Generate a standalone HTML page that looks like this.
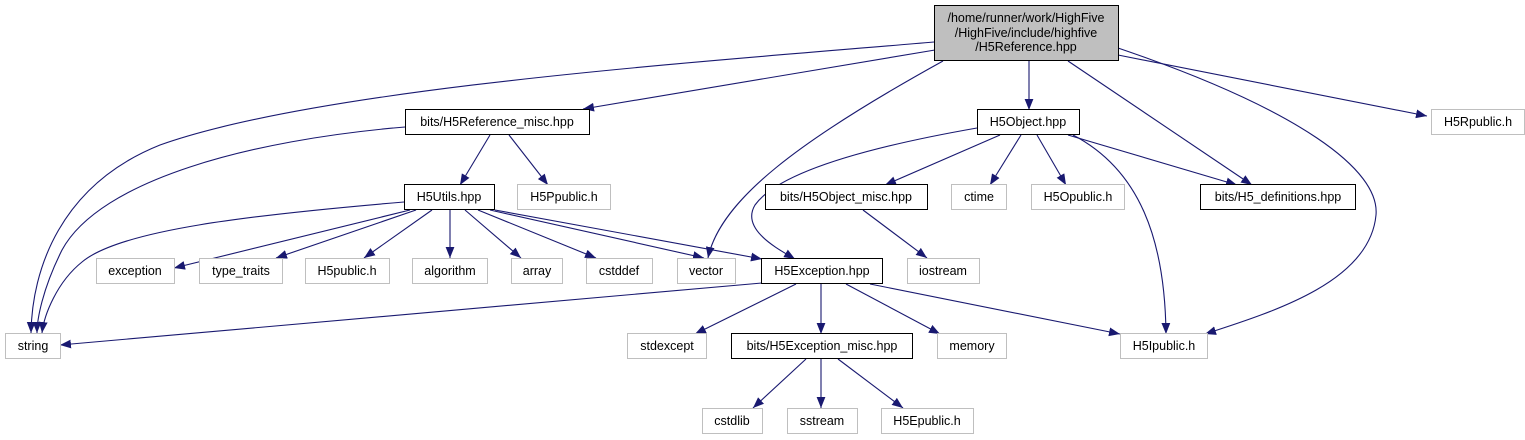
<!DOCTYPE html>
<html><head><meta charset="utf-8"><style>
html,body{margin:0;padding:0;background:#fff;}
svg{display:block;}
text{font-family:"Liberation Sans",Arial,sans-serif;font-size:12.5px;fill:#000;}
</style></head><body>
<svg width="1525" height="440" viewBox="0 0 1525 440" xmlns="http://www.w3.org/2000/svg">
<defs>
<marker id="a" viewBox="0 0 10 8" refX="10" refY="4" markerWidth="11" markerHeight="9" markerUnits="userSpaceOnUse" orient="auto">
<path d="M0,0 L10,4 L0,8 z" fill="#191970"/>
</marker>
</defs>
<g fill="none" stroke="#191970" stroke-width="1.1" marker-end="url(#a)">
<path d="M934,42 C700,62 320,88 160,145 C60,185 32,270 31,333"/>
<path d="M935,50 L583,109"/>
<path d="M943,61 C800,140 720,200 708,258"/>
<path d="M1029,61 L1029,110"/>
<path d="M1068,61 L1252,185"/>
<path d="M1118,48 C1300,110 1380,170 1376,215 C1370,280 1280,310 1205,334"/>
<path d="M1118,55 L1427,116"/>
<path d="M405,127 C250,140 100,180 62,250 C42,290 37,320 37,333"/>
<path d="M490,135 L460,185"/>
<path d="M509,135 L548,185"/>
<path d="M977,128 C880,145 780,170 755,205 C740,230 780,250 795,259"/>
<path d="M1000,135 L885,185"/>
<path d="M1021,135 L990,185"/>
<path d="M1037,135 L1066,185"/>
<path d="M1068,135 L1237,185"/>
<path d="M1073,135 C1140,170 1165,240 1166,334"/>
<path d="M863,210 L927,258"/>
<path d="M404,202 C250,215 120,230 82,262 C57,282 44,315 42,333"/>
<path d="M410,210 L174,268"/>
<path d="M416,210 L276,258"/>
<path d="M432,210 L364,258"/>
<path d="M450,210 L450,258"/>
<path d="M465,210 L521,258"/>
<path d="M478,210 L596,258"/>
<path d="M490,210 L704,258"/>
<path d="M495,210 L762,259"/>
<path d="M762,283 L60,345"/>
<path d="M796,284 L695,334"/>
<path d="M821,284 L821,334"/>
<path d="M846,284 L940,334"/>
<path d="M870,284 L1120,334"/>
<path d="M806,359 L753,408"/>
<path d="M821,359 L821,408"/>
<path d="M838,359 L903,408"/>
</g>
<g stroke-width="1">
<rect x="934.5" y="5.5" width="184" height="55" fill="#bfbfbf" stroke="#000"/>
<rect x="405.5" y="109.5" width="184" height="25" fill="#fff" stroke="#000"/>
<rect x="977.5" y="109.5" width="102" height="25" fill="#fff" stroke="#000"/>
<rect x="1431.5" y="109.5" width="93" height="25" fill="#fff" stroke="#bfbfbf"/>
<rect x="404.5" y="184.5" width="90" height="25" fill="#fff" stroke="#000"/>
<rect x="517.5" y="184.5" width="93" height="25" fill="#fff" stroke="#bfbfbf"/>
<rect x="765.5" y="184.5" width="162" height="25" fill="#fff" stroke="#000"/>
<rect x="951.5" y="184.5" width="55" height="25" fill="#fff" stroke="#bfbfbf"/>
<rect x="1031.5" y="184.5" width="93" height="25" fill="#fff" stroke="#bfbfbf"/>
<rect x="1200.5" y="184.5" width="155" height="25" fill="#fff" stroke="#000"/>
<rect x="96.5" y="258.5" width="78" height="25" fill="#fff" stroke="#bfbfbf"/>
<rect x="199.5" y="258.5" width="83" height="25" fill="#fff" stroke="#bfbfbf"/>
<rect x="305.5" y="258.5" width="84" height="25" fill="#fff" stroke="#bfbfbf"/>
<rect x="412.5" y="258.5" width="75" height="25" fill="#fff" stroke="#bfbfbf"/>
<rect x="511.5" y="258.5" width="51" height="25" fill="#fff" stroke="#bfbfbf"/>
<rect x="586.5" y="258.5" width="66" height="25" fill="#fff" stroke="#bfbfbf"/>
<rect x="677.5" y="258.5" width="58" height="25" fill="#fff" stroke="#bfbfbf"/>
<rect x="761.5" y="258.5" width="121" height="25" fill="#fff" stroke="#000"/>
<rect x="907.5" y="258.5" width="72" height="25" fill="#fff" stroke="#bfbfbf"/>
<rect x="5.5" y="333.5" width="55" height="25" fill="#fff" stroke="#bfbfbf"/>
<rect x="627.5" y="333.5" width="79" height="25" fill="#fff" stroke="#bfbfbf"/>
<rect x="731.5" y="333.5" width="181" height="25" fill="#fff" stroke="#000"/>
<rect x="937.5" y="333.5" width="69" height="25" fill="#fff" stroke="#bfbfbf"/>
<rect x="1120.5" y="333.5" width="87" height="25" fill="#fff" stroke="#bfbfbf"/>
<rect x="702.5" y="408.5" width="60" height="25" fill="#fff" stroke="#bfbfbf"/>
<rect x="787.5" y="408.5" width="70" height="25" fill="#fff" stroke="#bfbfbf"/>
<rect x="881.5" y="408.5" width="92" height="25" fill="#fff" stroke="#bfbfbf"/>
</g>
<g text-anchor="middle">
<text x="1026" y="22">/home/runner/work/HighFive</text>
<text x="1026" y="37">/HighFive/include/highfive</text>
<text x="1026" y="51">/H5Reference.hpp</text>
<text x="497" y="126">bits/H5Reference_misc.hpp</text>
<text x="1028" y="126">H5Object.hpp</text>
<text x="1478" y="126">H5Rpublic.h</text>
<text x="449" y="201">H5Utils.hpp</text>
<text x="564" y="201">H5Ppublic.h</text>
<text x="846" y="201">bits/H5Object_misc.hpp</text>
<text x="979" y="201">ctime</text>
<text x="1078" y="201">H5Opublic.h</text>
<text x="1278" y="201">bits/H5_definitions.hpp</text>
<text x="135" y="275">exception</text>
<text x="241" y="275">type_traits</text>
<text x="347" y="275">H5public.h</text>
<text x="450" y="275">algorithm</text>
<text x="537" y="275">array</text>
<text x="619" y="275">cstddef</text>
<text x="706" y="275">vector</text>
<text x="822" y="275">H5Exception.hpp</text>
<text x="943" y="275">iostream</text>
<text x="33" y="350">string</text>
<text x="667" y="350">stdexcept</text>
<text x="822" y="350">bits/H5Exception_misc.hpp</text>
<text x="972" y="350">memory</text>
<text x="1164" y="350">H5Ipublic.h</text>
<text x="732" y="425">cstdlib</text>
<text x="822" y="425">sstream</text>
<text x="927" y="425">H5Epublic.h</text>
</g>
</svg>
</body></html>
